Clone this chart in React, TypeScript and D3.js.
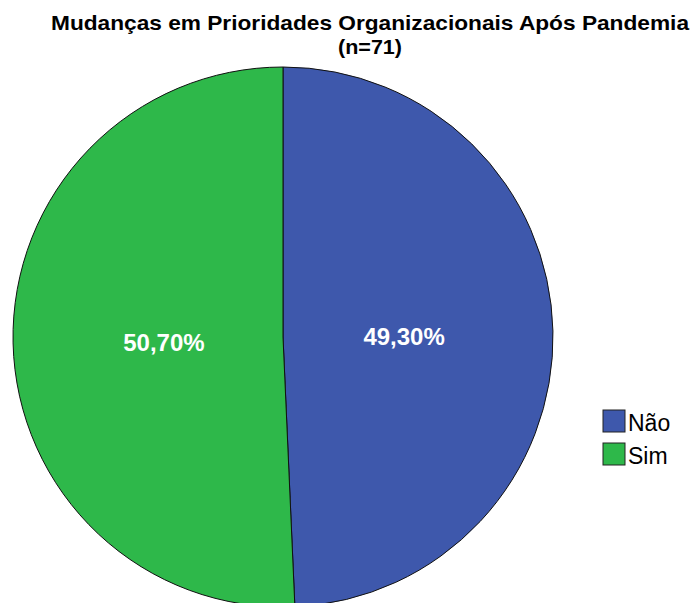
import React from "react";
import * as d3 from "d3";

const categories = ["Não", "Sim"];
const values = [49.3, 50.7];
const labels = ["49,30%", "50,70%"];
const colors = ["#3E58AC", "#2EB84A"];

export default function App() {
  const W = 696, H = 603;
  const cx = 283, cy = 337, r = 270;
  const pie = d3.pie<number>().sort(null).value((d) => d)(values);
  const arc = d3.arc<d3.PieArcDatum<number>>().innerRadius(0).outerRadius(r);
  const labelArc = d3.arc<d3.PieArcDatum<number>>().innerRadius(r * 0.445).outerRadius(r * 0.445);
  return (
    <svg width={W} height={H} style={{ position: "absolute", left: 0, top: 0, background: "#fff" }}
      fontFamily="'Liberation Sans', Arial, sans-serif">
      <rect width={W} height={H} fill="#fff" />
      <text x={370} y={30} textAnchor="middle" fontWeight="bold" fontSize={21} textLength={638} lengthAdjust="spacingAndGlyphs">
        Mudanças em Prioridades Organizacionais Após Pandemia
      </text>
      <text x={370} y={54} textAnchor="middle" fontWeight="bold" fontSize={21} textLength={64} lengthAdjust="spacingAndGlyphs">(n=71)</text>
      <g transform={`translate(${cx},${cy})`}>
        {pie.map((d, i) => (
          <path key={i} d={arc(d) || ""} fill={colors[i]} stroke="#111" strokeWidth={1} />
        ))}
        {pie.map((d, i) => {
          const [x, y] = labelArc.centroid(d);
          return (
            <text key={"l" + i} x={x + 1} y={y + 11} textAnchor="middle" fill="#fff" fontWeight="bold" fontSize={24}>
              {labels[i]}
            </text>
          );
        })}
      </g>
      {categories.map((c, i) => (
        <g key={c} transform={`translate(603,${410 + i * 33})`}>
          <rect width={22} height={22} fill={colors[i]} stroke="#222" strokeWidth={1} />
          <text x={25} y={21} fontSize={23}>{c}</text>
        </g>
      ))}
    </svg>
  );
}
